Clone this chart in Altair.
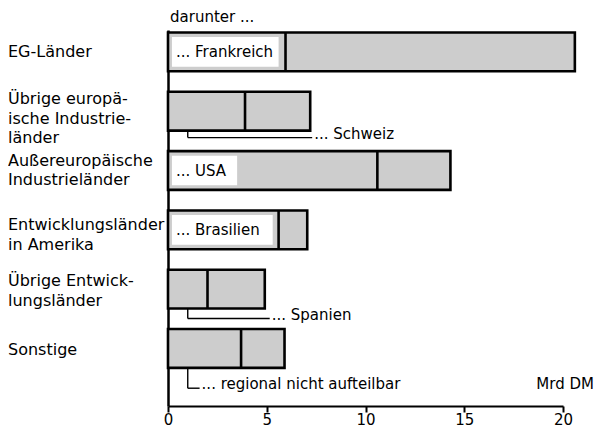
import altair as alt
import pandas as pd

# ---- data (Mrd DM) ----
categories = [
    "EG-Länder",
    "Übrige europä-\nische Industrie-\nländer",
    "Außereuropäische\nIndustrieländer",
    "Entwicklungsländer\nin Amerika",
    "Übrige Entwick-\nlungsländer",
    "Sonstige",
]
totals = [20.6, 7.2, 14.3, 7.05, 4.9, 5.9]
darunter = [5.95, 3.9, 10.6, 5.6, 2.0, 3.7]
darunter_labels = [
    "... Frankreich",
    "... Schweiz",
    "... USA",
    "... Brasilien",
    "... Spanien",
    "... regional nicht aufteilbar",
]
tick_values = [0, 5, 10, 15, 20]

# ---- layout / annotation settings ----
FONT = "DejaVu Sans"
W, H = 395, 376
Y_DOMAIN = [-0.369, 5.97]
ROW_PX = H / (Y_DOMAIN[1] - Y_DOMAIN[0])
HALF = 0.327            # half bar thickness in row units
LH = 19.5               # line height of category labels
inside_rows = [0, 2, 3]  # labels drawn inside the bar
box_end = [5.6, 3.5, 5.3]
leader_rows = [1, 4, 5]
leader_end = [7.3, 5.15, 1.6]
leader_drop = [0.445, 0.495, 0.67]
label_shift_px = [0, 7.5, 0, 5, 2, 1.5]

df = pd.DataFrame({"row": list(range(len(categories))), "cat": categories,
                   "total": totals, "part": darunter})
df["zero"] = 0.0
df["y0"] = df["row"] - HALF
df["y1"] = df["row"] + HALF
nlines = [c.count("\n") + 1 for c in categories]
df["ylab"] = [r + (s - (n - 1) * LH / 2) / ROW_PX
              for r, s, n in zip(df["row"], label_shift_px, nlines)]

df_in = pd.DataFrame({
    "row": inside_rows,
    "label": [darunter_labels[r] for r in inside_rows],
    "bs": [0.2] * len(inside_rows),
    "be": box_end,
})
df_in["b0"] = df_in["row"] - 0.25
df_in["b1"] = df_in["row"] + 0.25

df_ld = pd.DataFrame({
    "row": leader_rows,
    "label": [darunter_labels[r] for r in leader_rows],
    "xl": [1.0] * len(leader_rows),
    "xe": leader_end,
})
df_ld["top"] = df_ld["row"] + HALF
df_ld["ly"] = df_ld["row"] + leader_drop

xs = alt.Scale(domain=[0, 20], nice=False, zero=False)
ys = alt.Scale(domain=Y_DOMAIN, reverse=True, nice=False, zero=False)

xaxis = alt.Axis(values=tick_values, title=None, grid=False, domainColor="black",
                 domainWidth=2, tickColor="black", tickWidth=2, tickSize=6,
                 labelFont=FONT, labelFontSize=15, labelColor="black",
                 labelPadding=0, labelFlush=False)
yaxis = alt.Axis(labels=False, ticks=False, grid=False, title=None,
                 domainColor="black", domainWidth=2.5)


def X(f):
    return alt.X(f, type="quantitative", scale=xs, axis=xaxis)


def Y(f):
    return alt.Y(f, type="quantitative", scale=ys, axis=yaxis)


bars = alt.Chart(df).mark_bar(fill="#cdcdcd", stroke="black", strokeWidth=2.6,
                              strokeJoin="miter").encode(
    x=X("zero"), x2="total:Q", y=Y("y0"), y2="y1:Q")

dividers = alt.Chart(df).mark_rule(color="black", strokeWidth=2.6).encode(
    x=X("part"), y=Y("y0"), y2="y1:Q")

boxes = alt.Chart(df_in).mark_rect(fill="white").encode(
    x=X("bs"), x2="be:Q", y=Y("b0"), y2="b1:Q")

box_text = alt.Chart(df_in).mark_text(align="left", baseline="middle", dx=4,
                                      font=FONT, fontSize=15, color="black").encode(
    x=X("bs"), y=Y("row"), text="label:N")

lead_v = alt.Chart(df_ld).mark_rule(color="black", strokeWidth=1.4).encode(
    x=X("xl"), y=Y("top"), y2="ly:Q")
lead_h = alt.Chart(df_ld).mark_rule(color="black", strokeWidth=1.4).encode(
    x=X("xl"), x2="xe:Q", y=Y("ly"))
lead_text = alt.Chart(df_ld).mark_text(align="left", baseline="alphabetic", dx=2, dy=1,
                                       font=FONT, fontSize=15, color="black").encode(
    x=X("xe"), y=Y("ly"), text="label:N")

cat_text = alt.Chart(df).mark_text(align="left", baseline="middle", lineBreak="\n",
                                   lineHeight=LH, font=FONT, fontSize=16,
                                   color="black").encode(
    x=alt.value(-160), y=Y("ylab"), text="cat:N")

head = alt.Chart(pd.DataFrame({"t": ["darunter ..."]})).mark_text(
    align="left", baseline="middle", font=FONT, fontSize=15, color="black", dx=2).encode(
    x=alt.datum(0), y=alt.value(-13), text="t:N")

unit = alt.Chart(pd.DataFrame({"t": ["Mrd DM"]})).mark_text(
    align="right", baseline="middle", font=FONT, fontSize=15, color="black").encode(
    x=alt.value(W + 31), y=alt.value(354), text="t:N")

chart = alt.layer(bars, dividers, boxes, box_text, lead_v, lead_h, lead_text,
                  cat_text, head, unit).properties(
    width=W, height=H,
    autosize=alt.AutoSizeParams(type="none"),
    padding={"left": 160, "top": 22, "right": 32, "bottom": 22},
    background="white",
).configure_view(stroke=None)

chart.save("out.html", embed_options={"renderer": "svg", "actions": False})
